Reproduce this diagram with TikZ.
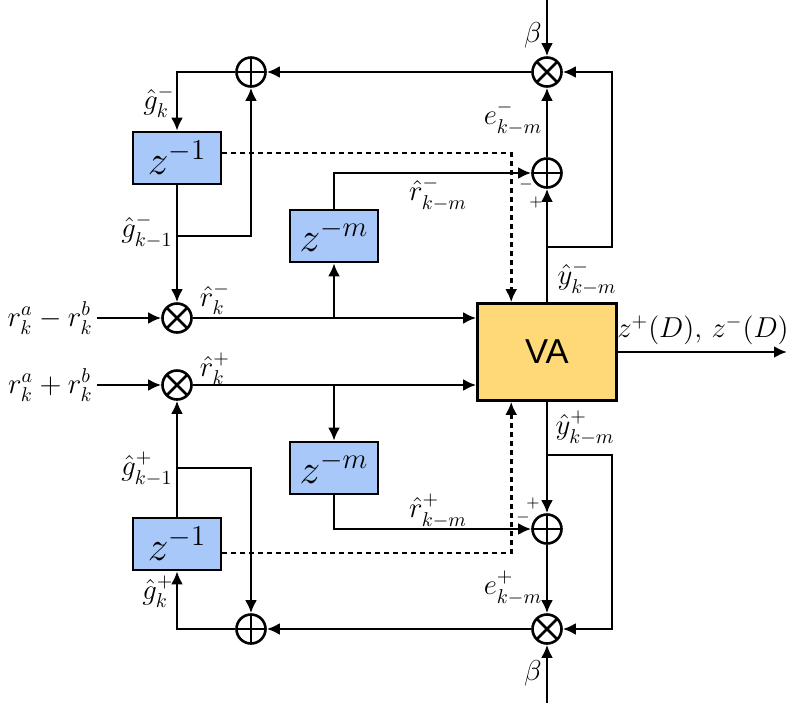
\documentclass[tikz,border=0pt]{standalone}
\usepackage{fontspec}
\usepackage{amsmath}
\usetikzlibrary{arrows.meta,calc,positioning}
\newfontfamily\vafont{Liberation Sans}
\definecolor{blkblue}{RGB}{168,200,250}
\definecolor{vaorange}{RGB}{255,217,120}
\tikzset{
  delay/.style={draw,line width=1.3pt,fill=blkblue,minimum width=44pt,minimum height=26pt,inner sep=0pt,font=\huge},
  adder/.style={circle,draw,line width=1.3pt,minimum size=14.5pt,inner sep=0pt,
    path picture={\draw[line width=1.3pt] (path picture bounding box.north)--(path picture bounding box.south)
      (path picture bounding box.west)--(path picture bounding box.east);}},
  mixer/.style={circle,draw,line width=1.3pt,minimum size=14.5pt,inner sep=0pt,
    path picture={\draw[line width=1.3pt] (path picture bounding box.north west)--(path picture bounding box.south east)
      (path picture bounding box.north east)--(path picture bounding box.south west);}},
  sig/.style={line width=1.3pt,-{Latex[length=6.5pt,width=6pt]}},
  dsig/.style={sig,dash pattern=on 2.5pt off 2pt},
  lab/.style={font=\Large,inner sep=0pt},
  sgn/.style={font=\footnotesize,inner sep=0pt}
}

\begin{document}
\begin{tikzpicture}[x=0.5pt,y=-0.5pt]
  \useasboundingbox (0,0) rectangle (789,703);

  % blocks
  \node[draw,line width=1.3pt,fill=vaorange,minimum width=69.5pt,minimum height=48.5pt,
        font=\LARGE\vafont] (va) at (547,352) {VA};
  \node[delay] (z1top) at (177,158) {$z^{-1}$};
  \node[delay] (zmtop) at (334,236) {$z^{-m}$};
  \node[delay] (zmbot) at (334,468) {$z^{-m}$};
  \node[delay] (z1bot) at (177,544) {$z^{-1}$};

  % adders and mixers
  \node[mixer] (mtop) at (547,72) {};
  \node[adder] (atop) at (251,72) {};
  \node[adder] (aetop) at (547,173) {};
  \node[mixer] (mminus) at (177,318) {};
  \node[mixer] (mplus) at (177,385) {};
  \node[adder] (aebot) at (547,529) {};
  \node[adder] (abot) at (251,629) {};
  \node[mixer] (mbot) at (547,629) {};

  % inputs and free ends
  \node[lab,inner sep=2pt,anchor=east] (inm) at (97,318) {$r_k^a - r_k^b$};
  \node[lab,inner sep=2pt,anchor=east] (inp) at (97,385) {$r_k^a + r_k^b$};
  \coordinate (btop) at (547,0);
  \coordinate (bbot) at (547,703);
  \coordinate (vout) at (787,352);
  \coordinate (gm) at (177,236);
  \coordinate (gp) at (177,468);
  \coordinate (ym) at (547,247);
  \coordinate (yp) at (547,455);

  % upper branch
  \draw[sig] (btop) -- (mtop);
  \draw[sig] (mtop) -- (atop);
  \draw[sig] (atop.west) -| (z1top.north);
  \draw[sig] (z1top) -- (mminus);
  \draw[sig] (gm) -| (atop.south);
  \draw[sig] (inm) -- (mminus);
  \draw[sig] (mminus) -- (mminus -| va.west);
  \draw[sig] (mminus -| zmtop) -- (zmtop);
  \draw[sig] (zmtop.north) |- (aetop.west);
  \draw[sig] (va.north) -- (aetop);
  \draw[sig] (aetop) -- (mtop);
  \draw[sig] (ym) -- ++(65,0) |- (mtop.east);
  \draw[dsig] ([yshift=2.5pt]z1top.east) -| ([xshift=17.5pt]va.north west);

  % lower branch
  \draw[sig] (bbot) -- (mbot);
  \draw[sig] (mbot) -- (abot);
  \draw[sig] (abot.west) -| (z1bot.south);
  \draw[sig] (z1bot) -- (mplus);
  \draw[sig] (gp) -| (abot.north);
  \draw[sig] (inp) -- (mplus);
  \draw[sig] (mplus) -- (mplus -| va.west);
  \draw[sig] (mplus -| zmbot) -- (zmbot);
  \draw[sig] (zmbot.south) |- (aebot.west);
  \draw[sig] (va.south) -- (aebot);
  \draw[sig] (aebot) -- (mbot);
  \draw[sig] (yp) -- ++(65,0) |- (mbot.east);
  \draw[dsig] ([yshift=-4.5pt]z1bot.east) -| ([xshift=17.5pt]va.south west);

  % output
  \draw[sig] (va) -- (vout);

  % labels
  \node[lab] (lbt) at (533,35) {$\beta$};
  \node[lab] (lbb) at (533,673) {$\beta$};
  \node[lab] (let) at (513,118) {$e^-_{k-m}$};
  \node[lab] (leb) at (513,588) {$e^+_{k-m}$};
  \node[lab] (lyt) at (587,278) {$\hat{y}^-_{k-m}$};
  \node[lab] (lyb) at (585,428) {$\hat{y}^+_{k-m}$};
  \node[lab] (lrmt) at (438,194) {$\hat{r}^-_{k-m}$};
  \node[lab] (lrmb) at (438,511) {$\hat{r}^+_{k-m}$};
  \node[lab] (lrt) at (215,299) {$\hat{r}_k^-$};
  \node[lab] (lrb) at (215,369) {$\hat{r}_k^+$};
  \node[lab] (lgt) at (159,102) {$\hat{g}_k^-$};
  \node[lab] (lgtt) at (147,231) {$\hat{g}^-_{k-1}$};
  \node[lab] (lgbb) at (147,469) {$\hat{g}^+_{k-1}$};
  \node[lab] (lgb) at (158,592) {$\hat{g}_k^+$};
  \node[lab] (lout) at (703,330) {$z^{+}(D)$, $z^{-}(D)$};
  \node[sgn] (sgt1) at (526,184) {$-$};
  \node[sgn] (sgt2) at (536,202) {$+$};
  \node[sgn] (sgb1) at (533,503) {$+$};
  \node[sgn] (sgb2) at (523,517) {$-$};
\end{tikzpicture}
\end{document}
